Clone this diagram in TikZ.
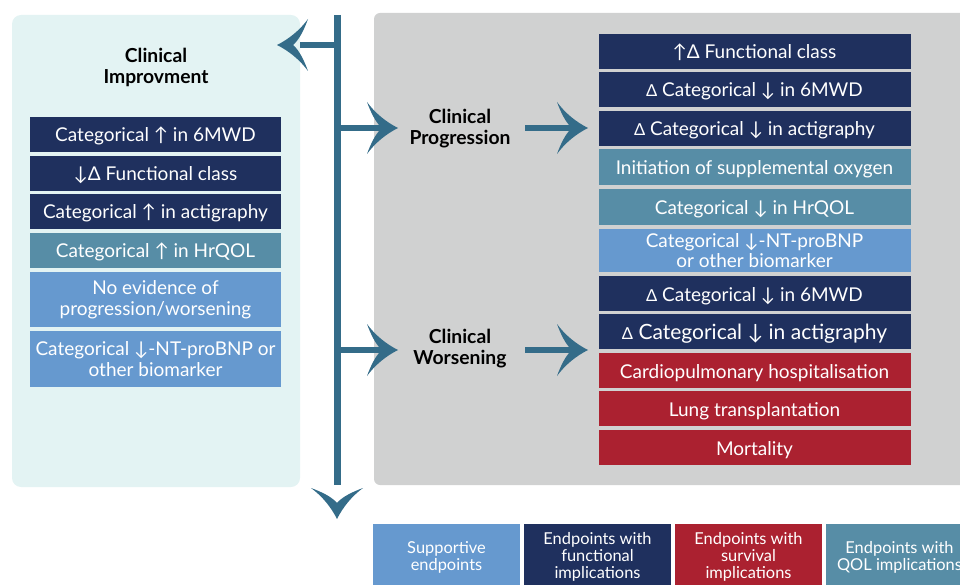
\documentclass[tikz,border=0pt]{standalone}
\usepackage{fontspec}
\setmainfont{Lato}
\definecolor{navy}{HTML}{1F305E}
\definecolor{qteal}{HTML}{578DA6}
\definecolor{lblue}{HTML}{6699CF}
\definecolor{sred}{HTML}{AB2130}
\definecolor{gpanel}{HTML}{D0D1D1}
\definecolor{cpanel}{HTML}{E3F3F3}
\definecolor{arrowc}{HTML}{346C89}
\newcommand{\smd}{{\fontsize{16.5}{16.5}\selectfont Δ}}
\tikzset{
  ebox/.style={rectangle, inner sep=0pt, text=white, align=center,
    font=\fontsize{19}{20.7}\selectfont},
  one/.style={text height=15pt, text depth=0pt},
  lbox/.style={ebox, minimum width=251pt},
  rbox/.style={ebox, minimum width=312pt},
  h35/.style={minimum height=35pt},
  nv/.style={fill=navy}, tl/.style={fill=qteal}, lb/.style={fill=lblue}, rd/.style={fill=sred},
  ttl/.style={align=center, font=\bfseries\fontsize{19.3}{21}\selectfont, text=black},
  legbox/.style={rectangle, inner sep=0pt, text=white, align=center,
    minimum width=147pt, minimum height=66pt, font=\fontsize{16.4}{17}\selectfont},
  shaft/.style={draw=arrowc, line width=6pt},
  trunk/.style={draw=arrowc, line width=7pt},
  ahead/.pic={\fill[arrowc] (0,0) .. controls (-12,6) and (-23,15) .. (-31,26)
      .. controls (-27,15) and (-22,5) .. (-16,0)
      .. controls (-22,-5) and (-27,-15) .. (-31,-26)
      .. controls (-23,-15) and (-12,-6) .. (0,0) -- cycle;}
}
\begin{document}
\begin{tikzpicture}[x=1pt,y=-1pt]
\useasboundingbox (0,0) rectangle (960,585);
\clip (0,0) rectangle (960,585);
% panels
\fill[cpanel, rounded corners=9pt] (12,15) rectangle (300,487);
\fill[gpanel, rounded corners=6pt] (374,13) rectangle (985,485);

% trunk and branches
\coordinate (top) at (337,15);
\coordinate (bot) at (337,485);
\draw[trunk] (top) -- (bot);
\pic[rotate=-90] at (337,519) {ahead};

\coordinate (j1) at (340,45);
\coordinate (e1) at (300,45);
\draw[shaft] (j1) -- (e1);
\pic[rotate=180] at (277,45) {ahead};

\coordinate (j2) at (337,128);
\coordinate (e2) at (385,128);
\draw[shaft] (j2) -- (e2);
\pic at (398,128) {ahead};

\coordinate (j3) at (337,350);
\coordinate (e3) at (385,350);
\draw[shaft] (j3) -- (e3);
\pic at (398,350) {ahead};

% titles
\node[ttl] (imp) at (156,67) {Clinical\\Improvment};
\node[ttl] (prog) at (460,129) {Clinical\\Progression};
\node[ttl] (wors) at (460,349) {Clinical\\Worsening};

\coordinate (p1) at (525,128);
\coordinate (p2) at (575,128);
\draw[shaft] (p1) -- (p2);
\pic at (588,128) {ahead};
\coordinate (w1) at (525,350);
\coordinate (w2) at (575,350);
\draw[shaft] (w1) -- (w2);
\pic at (588,350) {ahead};

% left boxes
\node[lbox, nv, h35, one] (l1) at (155.5,134.5) {Categorical ↑ in 6MWD};
\node[lbox, nv, h35, one] (l2) at (155.5,173.5) {↓Δ Functional class};
\node[lbox, nv, h35, one] (l3) at (155.5,211.5) {Categorical ↑ in actigraphy};
\node[lbox, tl, h35, one] (l4) at (155.5,250.5) {Categorical ↑ in HrQOL};
\node[lbox, lb, minimum height=55pt] (l5) at (155.5,299.5) {No evidence of\\progression/worsening};
\node[lbox, lb, minimum height=56pt] (l6) at (155.5,359) {Categorical ↓-NT-proBNP or\\other biomarker};

% right boxes
\node[rbox, nv, h35, one] (r1) at (754.5,51.5) {↑Δ Functional class};
\node[rbox, nv, h35, one] (r2) at (754.5,89.5) {\smd\ Categorical ↓ in 6MWD};
\node[rbox, nv, h35, one] (r3) at (754.5,128.5) {\smd\ Categorical ↓ in actigraphy};
\node[rbox, tl, minimum height=36pt, one] (r4) at (754.5,167) {Initiation of supplemental oxygen};
\node[rbox, tl, minimum height=36pt, one] (r5) at (754.5,207) {Categorical ↓ in HrQOL};
\node[rbox, lb, minimum height=43pt] (r6) at (754.5,250.5) {Categorical ↓-NT-proBNP\\or other biomarker};
\node[rbox, nv, h35, one] (r7) at (754.5,293.5) {\smd\ Categorical ↓ in 6MWD};
\node[rbox, nv, h35, one, font=\fontsize{21}{22}\selectfont] (r8) at (754.5,331.5) {\smd\ Categorical ↓ in actigraphy};
\node[rbox, rd, h35, one] (r9) at (754.5,370.5) {Cardiopulmonary hospitalisation};
\node[rbox, rd, h35, one] (r10) at (754.5,408.5) {Lung transplantation};
\node[rbox, rd, h35, one] (r11) at (754.5,447.5) {Mortality};

% legend
\node[legbox, lb] (g1) at (446.5,557) {Supportive\\endpoints};
\node[legbox, nv] (g2) at (597.5,557) {Endpoints with\\functional\\implications};
\node[legbox, rd] (g3) at (748.5,557) {Endpoints with\\survival\\implications};
\node[legbox, tl] (g4) at (899.5,557) {Endpoints with\\QOL implications};
\end{tikzpicture}
\end{document}
